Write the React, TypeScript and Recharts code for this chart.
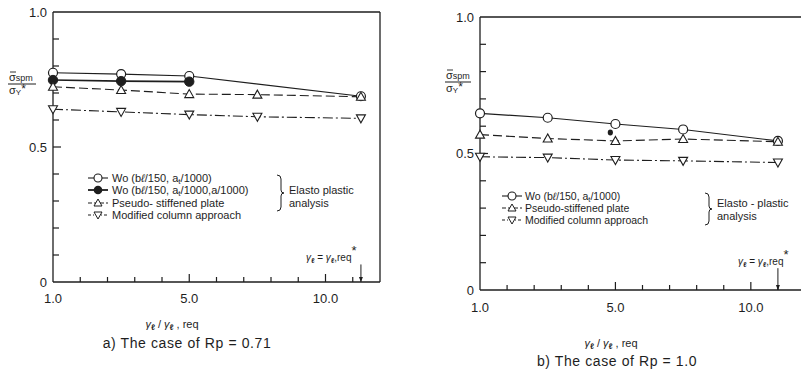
import React from 'react';
import { LineChart, Line, XAxis, YAxis, ReferenceLine, ReferenceDot } from 'recharts';

const INK = '#1e1e1e';
const FONT = '"Liberation Sans", Arial, sans-serif';

// ---- data: x = γℓ/γℓ,req ----
const xValuesA = [1.0, 3.0, 5.0, 7.5, 11.3];
const woOpenA = [0.775, 0.77, 0.763, null, 0.688];
const woFilledA = [0.748, 0.744, 0.742, null, null];
const pseudoA = [0.723, 0.711, 0.696, 0.694, 0.686];
const modifiedA = [0.64, 0.63, 0.62, 0.612, 0.606];
const reqA = 11.3;

const xValuesB = [1.0, 3.0, 5.0, 7.5, 11.0];
const woOpenB = [0.647, 0.631, 0.608, 0.588, 0.546];
const pseudoB = [0.569, 0.555, 0.546, 0.553, 0.543];
const modifiedB = [0.488, 0.485, 0.476, 0.473, 0.467];
const strayXB = [4.85];
const strayYB = [0.577];
const reqB = 11.0;

const yTicks = [0, 0.1, 0.2, 0.3, 0.4, 0.5, 0.6, 0.7, 0.8, 0.9, 1.0];
const yLabelValues = [0, 0.5, 1.0];
const yLabelTexts = ['0', '0.5', '1.0'];
const xTickValues = [1.0, 1.8, 2.6, 3.4, 4.2, 5.0, 6, 7, 8, 9, 10, 11];
const xLabelValues = [1.0, 5.0, 10.0];
const xLabelTexts = ['1.0', '5.0', '10.0'];

// the original axis is drawn with unequal spacing: 0.8 per division up to 5, 1 per division after
const toAxis = (v: number) => (v <= 5 ? (v - 1) / 0.8 : v);

// tick-mark helper rows (drawn as dots of invisible series)
const tickRows = [
  ...yTicks.filter((v) => v > 0 && v < 1).map((v) => ({ pos: 0, ytk: v, major: Math.abs(v - 0.5) < 1e-6 })),
  ...xTickValues.map(toAxis).filter((p) => p > 0).map((p) => ({ pos: p, xtk: 0, major: p === 5 || p === 10 })),
];

const rowsA = [
  ...xValuesA.map((v, i) => ({
    pos: toAxis(v), wo: woOpenA[i], wof: woFilledA[i], ps: pseudoA[i], mc: modifiedA[i],
  })),
  ...tickRows,
];
const rowsB = [
  ...xValuesB.map((v, i) => ({
    pos: toAxis(v), wo: woOpenB[i], ps: pseudoB[i], mc: modifiedB[i],
  })),
  ...tickRows,
];

const ok = (p: any) => p && p.cx != null && p.cy != null && p.value != null && !Number.isNaN(p.cy);

const OpenCircle = (p: any) =>
  ok(p) ? <circle key={`oc${p.index}`} cx={p.cx} cy={p.cy} r={4.5} fill="#fff" stroke={INK} strokeWidth={1.2} /> : <g key={`oc${p.index}`} />;
const FilledCircle = (p: any) =>
  ok(p) ? <circle key={`fc${p.index}`} cx={p.cx} cy={p.cy} r={4.7} fill={INK} stroke={INK} strokeWidth={1} /> : <g key={`fc${p.index}`} />;
const TriUp = (p: any) =>
  ok(p) ? (
    <path key={`tu${p.index}`} d={`M${p.cx},${p.cy - 4.5}L${p.cx - 4.5},${p.cy + 3.5}L${p.cx + 4.5},${p.cy + 3.5}Z`} fill="#fff" stroke={INK} strokeWidth={1.1} />
  ) : <g key={`tu${p.index}`} />;
const TriDown = (p: any) =>
  ok(p) ? (
    <path key={`td${p.index}`} d={`M${p.cx},${p.cy + 4.5}L${p.cx - 4.5},${p.cy - 3.5}L${p.cx + 4.5},${p.cy - 3.5}Z`} fill="#fff" stroke={INK} strokeWidth={1.1} />
  ) : <g key={`td${p.index}`} />;

const YTickDot = (p: any) =>
  ok(p) ? (
    <rect key={`yt${p.index}`} x={p.cx} y={p.cy - 0.6} width={p.payload && p.payload.major ? 8 : 6} height={1.2} fill={INK} />
  ) : <g key={`yt${p.index}`} />;
const XTickDot = (p: any) => {
  if (!ok(p)) return <g key={`xt${p && p.index}`} />;
  const len = p.payload && p.payload.major ? 8 : 5;
  return <rect key={`xt${p.index}`} x={p.cx - 0.6} y={p.cy - len} width={1.2} height={len} fill={INK} />;
};

const labelFor = (vals: number[], texts: string[], v: number) => {
  const i = vals.findIndex((t) => Math.abs(t - v) < 1e-6);
  return i >= 0 ? texts[i] : null;
};

const YTick = (props: any) => {
  const { x, y, payload } = props;
  const lab = labelFor(yLabelValues, yLabelTexts, payload.value);
  if (!lab) return <g />;
  return (
    <text x={x - 6} y={y} textAnchor="end" dominantBaseline="central" fontSize={13} fill={INK} fontFamily={FONT}>
      {lab}
    </text>
  );
};

const makeXTick = (labelDy: number) => (props: any) => {
  const { x, y, payload } = props;
  const v = payload.value <= 5 ? 1 + payload.value * 0.8 : payload.value;
  const lab = labelFor(xLabelValues, xLabelTexts, v);
  if (!lab) return <g />;
  return (
    <text x={x} y={y + labelDy} textAnchor="middle" dominantBaseline="central" fontSize={13} fill={INK} fontFamily={FONT}>
      {lab}
    </text>
  );
};

const ArrowHead = (p: any) => (
  <path d={`M${p.cx - 2},${p.cy - 5}L${p.cx + 2},${p.cy - 5}L${p.cx},${p.cy}Z`} fill={INK} />
);
const StrayDot = (p: any) => <ellipse cx={p.cx} cy={p.cy} rx={2.6} ry={3} fill={INK} />;

const xPositions = xTickValues.map(toAxis);
const axisLineStyle = { stroke: INK, strokeWidth: 1.3 };

function PanelA() {
  return (
    <LineChart width={400} height={372} data={rowsA} margin={{ top: 12, right: 20, bottom: 89, left: 52 }}>
      <XAxis dataKey="pos" type="number" domain={[0, 12]} ticks={xPositions} interval={0} height={1}
        tickSize={0} tickMargin={0} tickLine={false} axisLine={axisLineStyle} tick={makeXTick(16)} />
      <YAxis type="number" domain={[0, 1]} ticks={yTicks} interval={0} width={1}
        tickSize={0} tickMargin={0} tickLine={false} axisLine={axisLineStyle} tick={YTick} />
      <ReferenceLine y={1} stroke={INK} strokeWidth={1.3} ifOverflow="visible" />
      <ReferenceLine x={12} stroke={INK} strokeWidth={1.3} ifOverflow="visible" />
      <ReferenceLine segment={[{ x: toAxis(reqA), y: 0.065 }, { x: toAxis(reqA), y: 0 }]} stroke={INK} strokeWidth={1} />
      <ReferenceDot x={toAxis(reqA)} y={0} r={0} shape={ArrowHead} />
      <Line dataKey="ytk" stroke="none" dot={YTickDot} isAnimationActive={false} />
      <Line dataKey="xtk" stroke="none" dot={XTickDot} isAnimationActive={false} />
      <Line dataKey="wo" stroke={INK} strokeWidth={1.2} connectNulls dot={OpenCircle} isAnimationActive={false} />
      <Line dataKey="wof" stroke={INK} strokeWidth={1.6} dot={FilledCircle} isAnimationActive={false} />
      <Line dataKey="ps" stroke={INK} strokeWidth={1.1} strokeDasharray="9 4" dot={TriUp} isAnimationActive={false} />
      <Line dataKey="mc" stroke={INK} strokeWidth={1.1} strokeDasharray="10 3 2 3" dot={TriDown} isAnimationActive={false} />
    </LineChart>
  );
}

function PanelB() {
  const stray = [{ pos: toAxis(strayXB[0]), y: strayYB[0] }];
  return (
    <LineChart width={420} height={372} data={rowsB} margin={{ top: 17, right: 15, bottom: 81, left: 79 }}>
      <XAxis dataKey="pos" type="number" domain={[0, 12]} ticks={xPositions} interval={0} height={1}
        tickSize={0} tickMargin={0} tickLine={false} axisLine={axisLineStyle} tick={makeXTick(17)} />
      <YAxis type="number" domain={[0, 1]} ticks={yTicks} interval={0} width={1}
        tickSize={0} tickMargin={0} tickLine={false} axisLine={axisLineStyle} tick={YTick} />
      <ReferenceLine y={1} stroke={INK} strokeWidth={1.3} ifOverflow="visible" />
      <ReferenceLine segment={[{ x: toAxis(reqB), y: 0.08 }, { x: toAxis(reqB), y: 0 }]} stroke={INK} strokeWidth={1} />
      <ReferenceDot x={toAxis(reqB)} y={0} r={0} shape={ArrowHead} />
      <ReferenceDot x={stray[0].pos} y={stray[0].y} r={0} shape={StrayDot} />
      <Line dataKey="ytk" stroke="none" dot={YTickDot} isAnimationActive={false} />
      <Line dataKey="xtk" stroke="none" dot={XTickDot} isAnimationActive={false} />
      <Line dataKey="wo" stroke={INK} strokeWidth={1.2} connectNulls dot={OpenCircle} isAnimationActive={false} />
      <Line dataKey="ps" stroke={INK} strokeWidth={1.1} strokeDasharray="9 4" connectNulls dot={TriUp} isAnimationActive={false} />
      <Line dataKey="mc" stroke={INK} strokeWidth={1.1} strokeDasharray="10 3 2 3" connectNulls dot={TriDown} isAnimationActive={false} />
    </LineChart>
  );
}

const T = (p: any) => <text fontFamily={FONT} fill={INK} fontSize={11} {...p} />;

function LegendSym({ x, y, kind, dash, w }: any) {
  const cx = x + 10;
  let m: any = null;
  if (kind === 'oc') m = <circle cx={cx} cy={y} r={4} fill="#fff" stroke={INK} strokeWidth={1.1} />;
  if (kind === 'fc') m = <circle cx={cx} cy={y} r={4.3} fill={INK} />;
  if (kind === 'tu') m = <path d={`M${cx},${y - 4}L${cx - 4},${y + 3}L${cx + 4},${y + 3}Z`} fill="#fff" stroke={INK} strokeWidth={1} />;
  if (kind === 'td') m = <path d={`M${cx},${y + 4}L${cx - 4},${y - 3}L${cx + 4},${y - 3}Z`} fill="#fff" stroke={INK} strokeWidth={1} />;
  return (
    <g>
      <line x1={x} x2={x + 20} y1={y} y2={y} stroke={INK} strokeWidth={w || 1.1} strokeDasharray={dash} />
      {m}
    </g>
  );
}

function GammaRatio({ x, y, anchor }: any) {
  return (
    <T x={x} y={y} textAnchor={anchor} fontSize={11}>
      <tspan fontStyle="italic">γ</tspan>
      <tspan fontSize={8} dy={2} fontWeight="bold">ℓ</tspan>
      <tspan dy={-2}>{'  /  '}</tspan>
      <tspan fontStyle="italic">γ</tspan>
      <tspan fontSize={8} dy={2} fontWeight="bold">ℓ</tspan>
      <tspan dy={-2}>{' , req'}</tspan>
    </T>
  );
}

function ReqLabel({ x, y }: any) {
  return (
    <T x={x} y={y} fontSize={10}>
      <tspan fontStyle="italic">γ</tspan>
      <tspan fontSize={7} dy={2} fontWeight="bold">ℓ</tspan>
      <tspan dy={-2}>{' = '}</tspan>
      <tspan fontStyle="italic">γ</tspan>
      <tspan fontSize={7} dy={2} fontWeight="bold">ℓ</tspan>
      <tspan dy={-2}>,req</tspan>
      <tspan dy={-6} fontSize={13}>*</tspan>
    </T>
  );
}

function YFrac({ x, y, w }: any) {
  return (
    <g>
      <line x1={x + 2} x2={x + 8} y1={y - 12} y2={y - 12} stroke={INK} strokeWidth={0.9} />
      <T x={x + 1} y={y - 3} fontSize={11}>σ<tspan fontSize={9}>spm</tspan></T>
      <line x1={x} x2={x + w} y1={y} y2={y} stroke={INK} strokeWidth={1} />
      <T x={x + 1} y={y + 10} fontSize={11}>σ<tspan fontSize={8} dy={1}>Y</tspan><tspan fontSize={12} dy={-2}>*</tspan></T>
    </g>
  );
}

function Brace({ x, y1, y2 }: any) {
  const m = (y1 + y2) / 2;
  return (
    <path d={`M${x},${y1} q4,0 4,4 V${m - 3} q0,3 3,3 q-3,0 -3,3 V${y2 - 4} q0,4 -4,4`} fill="none" stroke={INK} strokeWidth={1} />
  );
}

function Overlay() {
  return (
    <svg width={801} height={372} style={{ position: 'absolute', left: 0, top: 0, pointerEvents: 'none' }}>
      {/* panel a */}
      <YFrac x={8} y={84} w={28} />
      <LegendSym x={88} y={178} kind="oc" />
      <T x={112} y={182}>Wo (b<tspan fontStyle="italic">ℓ</tspan>/150, a<tspan fontSize={8} dy={2}>t</tspan><tspan dy={-2}>/1000)</tspan></T>
      <LegendSym x={88} y={190} kind="fc" w={1.8} />
      <T x={112} y={194}>Wo (b<tspan fontStyle="italic">ℓ</tspan>/150, a<tspan fontSize={8} dy={2}>t</tspan><tspan dy={-2}>/1000,a/1000)</tspan></T>
      <LegendSym x={88} y={203} kind="tu" dash="4 2" />
      <T x={112} y={207}>Pseudo- stiffened plate</T>
      <LegendSym x={88} y={215} kind="td" dash="3 2 1 2" />
      <T x={112} y={219}>Modified column approach</T>
      <Brace x={277} y1={175} y2={211} />
      <T x={289} y={194}>Elasto plastic</T>
      <T x={289} y={207}>analysis</T>
      <ReqLabel x={306} y={261} />
      <GammaRatio x={172} y={328} anchor="middle" />
      <T x={187} y={348} fontSize={14} textAnchor="middle" letterSpacing={0.6}>a)  The  case  of  Rp = 0.71</T>

      {/* panel b */}
      <YFrac x={445} y={82} w={26} />
      <LegendSym x={502} y={196} kind="oc" />
      <T x={525} y={200} fontSize={10.5}>Wo (b<tspan fontStyle="italic">ℓ</tspan>/150, a<tspan fontSize={7.5} dy={1.5}>t</tspan><tspan dy={-1.5}>/1000)</tspan></T>
      <LegendSym x={502} y={208} kind="tu" dash="4 2" />
      <T x={525} y={212} fontSize={10.5}>Pseudo-stiffened plate</T>
      <LegendSym x={502} y={220} kind="td" dash="3 2 1 2" />
      <T x={525} y={224} fontSize={10.5}>Modified column approach</T>
      <Brace x={705} y1={193} y2={225} />
      <T x={717} y={207}>Elasto - plastic</T>
      <T x={717} y={220}>analysis</T>
      <ReqLabel x={738} y={265} />
      <GammaRatio x={611} y={347} anchor="middle" />
      <T x={617} y={366} fontSize={14} textAnchor="middle" letterSpacing={0.6}>b)  The  case  of  Rp = 1.0</T>
    </svg>
  );
}

export default function App() {
  return (
    <div style={{ position: 'absolute', left: 0, top: 0, width: 801, height: 372, overflow: 'hidden', background: '#fff', fontFamily: FONT }}>
      <div style={{ position: 'absolute', left: 0, top: 0 }}>
        <PanelA />
      </div>
      <div style={{ position: 'absolute', left: 400, top: 0 }}>
        <PanelB />
      </div>
      <Overlay />
    </div>
  );
}
